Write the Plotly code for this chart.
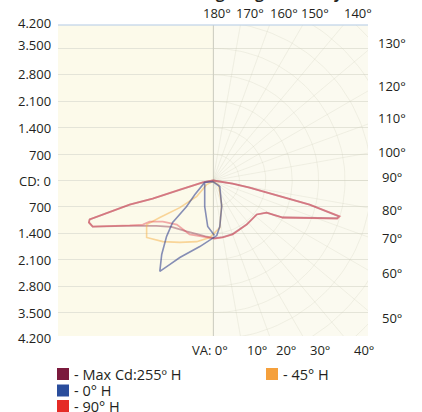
import numpy as np
import plotly.graph_objects as go

# ---------------- data (candela, horizontal / vertical components) ----------------
cd_tick_labels = ["4.200", "3.500", "2.800", "2.100", "1.400", "700", "CD: 0",
                  "700", "1.400", "2.100", "2.800", "3.500", "4.200"]
right_angle_labels = ["130°", "120°", "110°", "100°", "90°", "80°", "70°", "60°", "50°"]
top_angle_labels = ["180°", "170°", "160°", "150°", "140°"]
bottom_angle_labels = ["VA: 0°", "10°", "20°", "30°", "40°"]

# 90° H (red wing)
red_x = [0, 230, 520, 970, 1580, 2560, 3360, 3300, 1850, 1420, 1160, 890, 520, 260, 40,
         -170, -620, -960, -1330, -1680, -1860, -2210, -3190, -3290, -3270, -2210, -1600, -880, -270, 0]
red_y = [0, -30, -80, -190, -370, -640, -950, -1010, -980, -850, -900, -1170, -1430, -1510, -1540,
         -1510, -1430, -1170, -1090, -1090, -1170, -1190, -1220, -1110, -1030, -640, -480, -240, -50, 0]

# Max Cd: 255° H (maroon, nearly coincident with the wing)
maroon_x = [0, 230, 520, 970, 1580, 2560, 3340, 3290, 1850, 1420, 1160, 900, 520, 260, 40,
            -200, -700, -1100, -1500, -1900, -2300, -3190, -3290, -3270, -2210, -1600, -880, -270, 0]
maroon_y = [0, -30, -80, -190, -370, -640, -950, -1000, -980, -850, -900, -1160, -1420, -1500, -1530,
            -1480, -1350, -1230, -1200, -1200, -1200, -1220, -1110, -1030, -640, -480, -240, -50, 0]

# 0° H (blue)
blue_x = [0, -220, -480, -700, -1070, -1230, -1360, -1410, -1150, -880, -350, 0, 100, 180, 230, 180, 0,
          None, -220, -220, -140, 40]
blue_y = [-30, -50, -370, -690, -1110, -1480, -1960, -2410, -2230, -2040, -1750, -1540, -1460, -1220, -690, -160, -30,
          None, -80, -690, -1220, -1460]

# 45° H (orange)
orange_x = [0, -170, -430, -880, -1410, -1760, -1760, -1330, -880, -430, -90, 180, 230, 150, 0]
orange_y = [-30, -110, -420, -720, -980, -1170, -1510, -1620, -1640, -1620, -1510, -1250, -640, -110, -30]

legend_names = ["- Max Cd:255º H", "- 0° H", "- 90° H", "- 45° H"]
legend_colors = ["#7b1a3d", "#2a4d9c", "#e52b26", "#f5a03c"]

# ---------------- layout geometry ----------------
W, H = 422, 412
PX0, PX1, PY0, PY1 = 58, 368, 25, 336
XR = 4110
YR = 4120


def px(x):
    return (x - PX0) / (PX1 - PX0)


def py(y):
    return (PY1 - y) / (PY1 - PY0)


FONT = "Open Sans"
TXT = "#231f20"

fig = go.Figure()

# right-half polar grid (radials + semicircles)
grid_col = "rgba(205,205,185,0.25)"
for a in range(0, 181, 10):
    t = np.radians(a)
    fig.add_trace(go.Scatter(x=[0, 7000 * np.sin(t)], y=[0, -7000 * np.cos(t)], mode="lines",
                             line=dict(color=grid_col, width=1), hoverinfo="skip", showlegend=False))
th = np.radians(np.linspace(0, 180, 91))
for r in range(700, 6300, 700):
    fig.add_trace(go.Scatter(x=r * np.sin(th), y=-r * np.cos(th), mode="lines",
                             line=dict(color=grid_col, width=1), hoverinfo="skip", showlegend=False))

# curves
fig.add_trace(go.Scatter(x=maroon_x, y=maroon_y, mode="lines", name="Max Cd:255° H",
                         line=dict(color="rgba(123,26,61,0.4)", width=1.8), showlegend=False))
fig.add_trace(go.Scatter(x=orange_x, y=orange_y, mode="lines", name="45° H",
                         line=dict(color="rgba(245,175,70,0.5)", width=1.6), showlegend=False))
fig.add_trace(go.Scatter(x=red_x, y=red_y, mode="lines", name="90° H",
                         line=dict(color="rgba(229,70,85,0.45)", width=1.8), showlegend=False))
fig.add_trace(go.Scatter(x=blue_x, y=blue_y, mode="lines", name="0° H",
                         line=dict(color="rgba(55,70,145,0.6)", width=1.6), showlegend=False))

annotations = []
shapes = []

# left candela labels
left_y = [22.7, 45, 74, 100.7, 128, 155, 181, 207, 233, 260, 286, 312.7, 338]
for lab, yy in zip(cd_tick_labels, left_y):
    annotations.append(dict(x=px(53), y=py(yy), xref="paper", yref="paper", text=lab,
                            showarrow=False, xanchor="right", yanchor="middle",
                            font=dict(family=FONT, size=13, color=TXT)))
# right angle labels
right_y = [43, 86, 118, 152, 177, 210, 238, 273, 318]
for lab, yy in zip(right_angle_labels, right_y):
    annotations.append(dict(x=px(392), y=py(yy), xref="paper", yref="paper", text=lab,
                            showarrow=False, xanchor="center", yanchor="middle",
                            font=dict(family=FONT, size=13, color=TXT)))
# top labels
top_x = [217, 250, 284, 315, 358]
for lab, xx in zip(top_angle_labels, top_x):
    annotations.append(dict(x=px(xx), y=py(13), xref="paper", yref="paper", text=lab,
                            showarrow=False, xanchor="center", yanchor="middle",
                            font=dict(family=FONT, size=13, color=TXT)))
# bottom labels
bot_x = [210, 257, 286, 320, 364]
for lab, xx in zip(bottom_angle_labels, bot_x):
    annotations.append(dict(x=px(xx), y=py(350), xref="paper", yref="paper", text=lab,
                            showarrow=False, xanchor="center", yanchor="middle",
                            font=dict(family=FONT, size=13, color=TXT)))

# clipped title (only descenders visible)
annotations.append(dict(x=px(345), y=py(4.8), xref="paper", yref="paper", text="<b>Lighting Geometry</b>",
                        showarrow=False, xanchor="right", yanchor="bottom",
                        font=dict(family=FONT, size=15, color=TXT)))

# legend
leg_pos = [(57, 374), (57, 390.5), (57, 406), (266, 374)]
for name, col, (lx, ly) in zip(legend_names, legend_colors, leg_pos):
    shapes.append(dict(type="rect", xref="paper", yref="paper",
                       x0=px(lx), x1=px(lx + 12), y0=py(ly + 6), y1=py(ly - 6),
                       fillcolor=col, line=dict(width=0)))
    annotations.append(dict(x=px(lx + 16), y=py(ly), xref="paper", yref="paper", text=name,
                            showarrow=False, xanchor="left", yanchor="middle", borderpad=0,
                            font=dict(family=FONT, size=14.5, color=TXT)))

# slightly lighter right half
shapes.insert(0, dict(type="rect", xref="x", yref="paper", x0=0, x1=XR, y0=0, y1=1,
                      fillcolor="rgba(250,250,244,0.55)", line=dict(width=0), layer="below"))
# faint top border
shapes.append(dict(type="line", xref="paper", yref="paper", x0=0, x1=1, y0=1, y1=1,
                   line=dict(color="rgba(190,210,232,0.8)", width=1.5)))

fig.update_layout(
    width=W, height=H, autosize=False,
    margin=dict(l=PX0, r=W - PX1, t=PY0, b=H - PY1, pad=0),
    paper_bgcolor="white", plot_bgcolor="#fcfaea",
    showlegend=False,
    annotations=annotations, shapes=shapes,
    xaxis=dict(range=[-XR, XR], showgrid=False, showticklabels=False, zeroline=True,
               zerolinecolor="#d2d2c6", zerolinewidth=1, fixedrange=True),
    yaxis=dict(range=[-YR, YR], tickvals=[v * 700 for v in range(-5, 6)], showgrid=True,
               gridcolor="#e4e4d8", gridwidth=1, showticklabels=False, zeroline=False,
               fixedrange=True),
)

fig.write_html("out.html", config={"displayModeBar": False},
               post_script="document.body.style.margin='0';document.body.style.overflow='hidden';")
